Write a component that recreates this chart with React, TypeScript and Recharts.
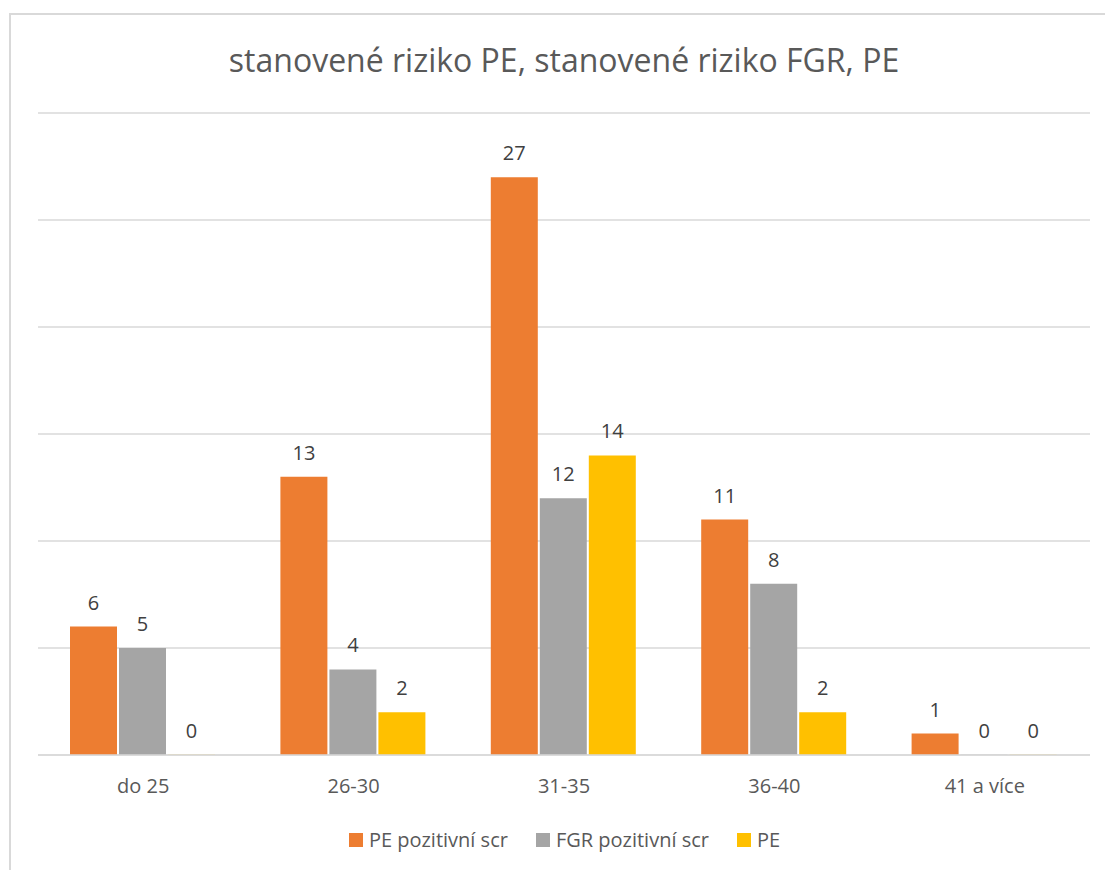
import React from 'react';
import { BarChart, Bar, XAxis, YAxis, CartesianGrid, LabelList } from 'recharts';

const categories = ['do 25', '26-30', '31-35', '36-40', '41 a více'];
const pePositive = [6, 13, 27, 11, 1];
const fgrPositive = [5, 4, 12, 8, 0];
const pe = [0, 2, 14, 2, 0];
const yTicks = [0, 5, 10, 15, 20, 25, 30];

const series = [
    { key: 'pePositive', name: 'PE pozitivní scr', color: '#ED7D31' },
    { key: 'fgrPositive', name: 'FGR pozitivní scr', color: '#A5A5A5' },
    { key: 'pe', name: 'PE', color: '#FFC000' },
];

const data = categories.map((label, i) => ({
    label,
    pePositive: pePositive[i],
    fgrPositive: fgrPositive[i],
    pe: pe[i],
}));

const FONT = '"Open Sans", sans-serif';

// value label above each bar, also for zero-height bars
const renderValue = (props: any) => {
    const { x, y, width, value } = props;
    return (
        <text x={x + width / 2} y={y - 17} fill="#404040" textAnchor="middle" fontSize={20} fontFamily={FONT}>
            {value}
        </text>
    );
};

// zero bars get a hairline so their labels still render
const zeroSize = (value: any) => (Number(value) === 0 ? 0.3 : 0);

export default function App() {
    return (
        <div style={{ position: 'absolute', left: 0, top: 0, width: 1105, height: 870, background: '#fff', overflow: 'hidden' }}>
            <div style={{ position: 'absolute', left: 9, top: 13, width: 1200, height: 1000, border: '2px solid #d9d9d9', boxSizing: 'border-box' }} />
            <div style={{ position: 'absolute', left: 0, top: 38, width: 1128, textAlign: 'center', fontFamily: FONT, fontSize: 32, color: '#595959' }}>
                stanovené riziko PE, stanovené riziko FGR, PE
            </div>
            <div style={{ position: 'absolute', left: 0, top: 0 }}>
                <BarChart
                    width={1105}
                    height={870}
                    data={data}
                    margin={{ top: 113, right: 15, left: 38, bottom: 85 }}
                    barCategoryGap={32}
                    barGap={2}
                >
                    <CartesianGrid vertical={false} stroke="#d9d9d9" strokeWidth={1.5} />
                    <XAxis
                        dataKey="label"
                        height={30}
                        axisLine={{ stroke: '#d9d9d9', strokeWidth: 1.5 }}
                        tickLine={false}
                        tick={{ fill: '#595959', fontSize: 20, fontFamily: FONT }}
                        dy={16}
                    />
                    <YAxis hide domain={[0, 30]} ticks={yTicks} width={0} />
                    {series.map((s) => (
                        <Bar key={s.key} dataKey={s.key} name={s.name} fill={s.color} minPointSize={zeroSize} isAnimationActive={false}>
                            <LabelList dataKey={s.key} content={renderValue} />
                        </Bar>
                    ))}
                </BarChart>
            </div>
            <div style={{ position: 'absolute', left: 0, top: 826, width: 1129, display: 'flex', justifyContent: 'center', fontFamily: FONT, fontSize: 20, color: '#595959' }}>
                {series.map((s) => (
                    <span key={s.key} style={{ display: 'flex', alignItems: 'center', margin: '0 14px' }}>
                        <span style={{ width: 14, height: 14, background: s.color, marginRight: 6, display: 'inline-block' }} />
                        {s.name}
                    </span>
                ))}
            </div>
        </div>
    );
}
